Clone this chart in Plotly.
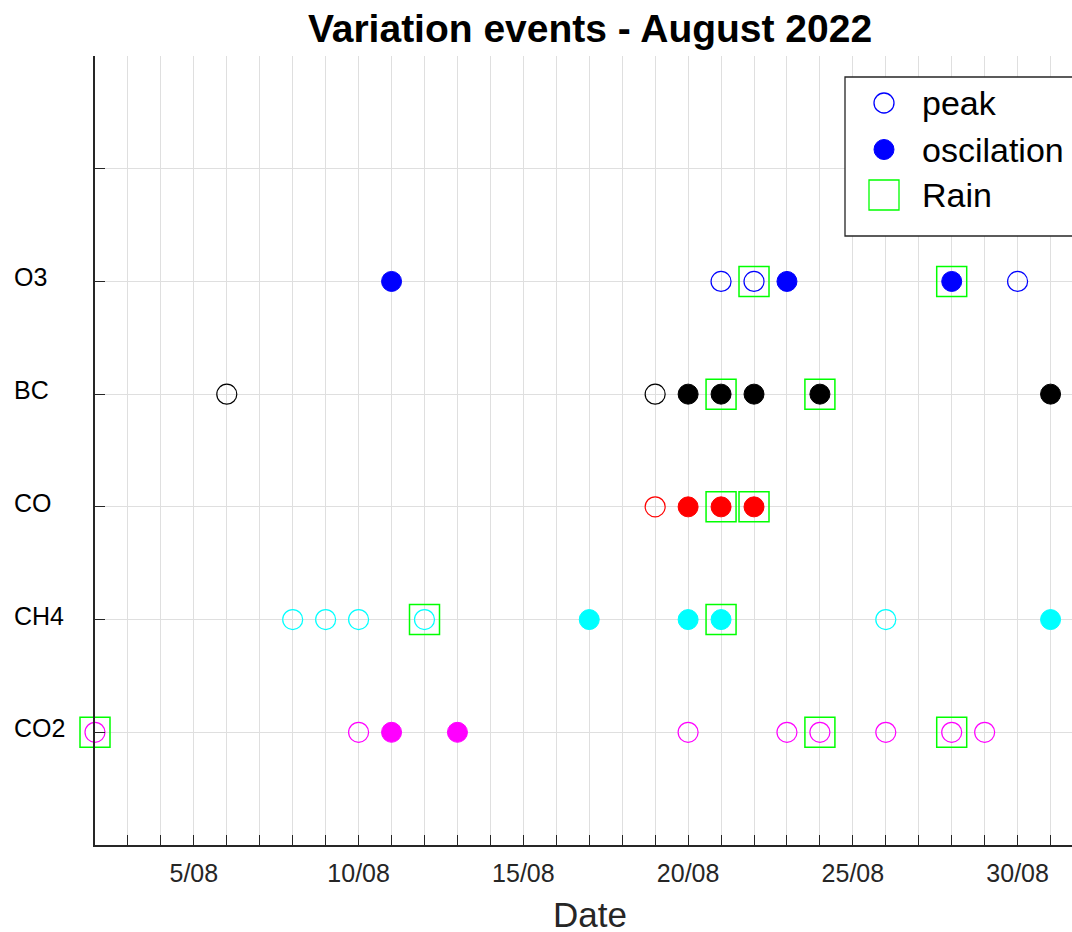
import plotly.graph_objects as go

# Event days (day of August 2022) per pollutant
o3_peak = [21, 22, 30]
o3_osc = [11, 23, 28]
o3_rain = [22, 28]

bc_peak = [6, 19]
bc_osc = [20, 21, 22, 24, 31]
bc_rain = [21, 24]

co_peak = [19]
co_osc = [20, 21, 22]
co_rain = [21, 22]

ch4_peak = [8, 9, 10, 12, 26]
ch4_osc = [17, 20, 21, 31]
ch4_rain = [12, 21]

co2_peak = [2, 10, 20, 23, 24, 26, 28, 29]
co2_osc = [11, 13]
co2_rain = [2, 24, 28]

species = ["CO2", "CH4", "CO", "BC", "O3"]
species_level = [1, 2, 3, 4, 5]
species_color = ["#ff00ff", "#00ffff", "#ff0000", "#000000", "#0000ff"]
peaks = [co2_peak, ch4_peak, co_peak, bc_peak, o3_peak]
oscillations = [co2_osc, ch4_osc, co_osc, bc_osc, o3_osc]
rains = [co2_rain, ch4_rain, co_rain, bc_rain, o3_rain]

tick_days = list(range(2, 32))
label_days = [5, 10, 15, 20, 25, 30]
legend_names = ["peak", "oscilation", "Rain"]

RAIN_COLOR = "#00ff00"
AXIS_COLOR = "#262626"
GRID_COLOR = "#dfdfdf"
FONT = "Liberation Sans, Arial, Helvetica, sans-serif"

W, H = 1072, 932
ML, MR, MT, MB = 95, 0, 56, 87
PW, PH = W - ML - MR, H - MT - MB


def day(d):
    return f"2022-08-{d:02d}"


fig = go.Figure()

for name, lvl, col, pk, osc in zip(species, species_level, species_color, peaks, oscillations):
    fig.add_trace(go.Scatter(
        x=[day(d) for d in pk], y=[lvl] * len(pk), mode="markers", name=f"{name} peak",
        marker=dict(symbol="circle-open", size=20, color=col, line=dict(width=1.2, color=col)),
        cliponaxis=False, showlegend=False, hoverinfo="x+name"))
    fig.add_trace(go.Scatter(
        x=[day(d) for d in osc], y=[lvl] * len(osc), mode="markers", name=f"{name} oscilation",
        marker=dict(symbol="circle", size=20, color=col, line=dict(width=1, color=col)),
        cliponaxis=False, showlegend=False, hoverinfo="x+name"))

rain_x, rain_y = [], []
for lvl, rn in zip(species_level, rains):
    rain_x += [day(d) for d in rn]
    rain_y += [lvl] * len(rn)
fig.add_trace(go.Scatter(
    x=rain_x, y=rain_y, mode="markers", name="Rain",
    marker=dict(symbol="square-open", size=30, color=RAIN_COLOR, line=dict(width=1.5, color=RAIN_COLOR)),
    cliponaxis=False, showlegend=False, hoverinfo="x+name"))

# Legend drawn in an inset subplot so the symbols keep their full size
LEG_L, LEG_T, LEG_B = 845, 77, 236
leg_w, leg_h = W - LEG_L, LEG_B - LEG_T
leg_rows = [26, 72.5, 118]
leg_sym_x = 39
leg_txt_x = 75
leg_symbols = ["circle-open", "circle", "square-open"]
leg_sizes = [20, 20, 30]
leg_colors = ["#0000ff", "#0000ff", RAIN_COLOR]
for sym, sz, col, yy, nm in zip(leg_symbols, leg_sizes, leg_colors, leg_rows, legend_names):
    fig.add_trace(go.Scatter(
        x=[leg_sym_x], y=[yy], xaxis="x2", yaxis="y2", mode="markers", name=nm,
        marker=dict(symbol=sym, size=sz, color=col, line=dict(width=1.3 if "open" in sym else 1, color=col)),
        showlegend=False, hoverinfo="skip", cliponaxis=False))

annotations = []
for nm, yy in zip(legend_names, leg_rows):
    annotations.append(dict(x=leg_txt_x, y=yy, xref="x2", yref="y2", text=nm, showarrow=False,
                            xanchor="left", yanchor="middle",
                            font=dict(family=FONT, size=34, color="#000000")))

# Pollutant names on the left, left-aligned
for name, lvl in zip(species, species_level):
    annotations.append(dict(x=(12 - ML) / PW, y=lvl, xref="paper", yref="y", text=name,
                            showarrow=False, xanchor="left", yanchor="middle", yshift=4,
                            font=dict(family=FONT, size=25, color="#000000")))

annotations.append(dict(x=(590 - ML) / PW, y=-69.5 / PH, xref="paper", yref="paper",
                        text="Date", showarrow=False, xanchor="center", yanchor="middle",
                        font=dict(family=FONT, size=35, color=AXIS_COLOR)))

x_end = 2 + PW / 32.95

fig.update_layout(
    width=W, height=H,
    margin=dict(l=ML, r=MR, t=MT, b=MB, autoexpand=False),
    paper_bgcolor="white", plot_bgcolor="white",
    showlegend=False,
    title=dict(text="<b>Variation events - August 2022</b>", x=590 / W, xref="container", xanchor="center",
               y=1 - 28 / H, yref="container", yanchor="middle",
               font=dict(family=FONT, size=39, color="#000000")),
    xaxis=dict(
        type="date",
        range=[day(2), f"2022-08-{int(x_end):02d} {int((x_end % 1) * 24):02d}:{int(((x_end * 24) % 1) * 60):02d}"],
        tickmode="array", tickvals=[day(d) for d in tick_days],
        ticktext=[f"{d}/08" if d in label_days else "" for d in tick_days],
        ticks="inside", ticklen=10, tickwidth=1.3, tickcolor=AXIS_COLOR,
        ticklabelstandoff=5,
        showgrid=True, gridcolor=GRID_COLOR, gridwidth=1,
        showline=True, linecolor=AXIS_COLOR, linewidth=1.5, mirror=False,
        zeroline=False,
        tickfont=dict(family=FONT, size=25, color=AXIS_COLOR),
    ),
    yaxis=dict(
        range=[0, 7], tickmode="array", tickvals=list(range(0, 8)), ticktext=[""] * 8,
        ticks="inside", ticklen=10, tickwidth=1.3, tickcolor=AXIS_COLOR,
        showgrid=True, gridcolor=GRID_COLOR, gridwidth=1,
        showline=True, linecolor=AXIS_COLOR, linewidth=1.5, mirror=False,
        zeroline=False,
    ),
    xaxis2=dict(domain=[(LEG_L - ML) / PW, 1], anchor="y2", range=[0, leg_w],
                showgrid=False, zeroline=False, showticklabels=False, showline=False, ticks="",
                fixedrange=True),
    yaxis2=dict(domain=[(H - MB - LEG_B) / PH, (H - MB - LEG_T) / PH], anchor="x2", range=[leg_h, 0],
                showgrid=False, zeroline=False, showticklabels=False, showline=False, ticks="",
                fixedrange=True),
    shapes=[dict(type="rect", xref="paper", yref="paper",
                 x0=(LEG_L - ML) / PW, x1=1.03,
                 y0=(H - MB - LEG_B) / PH, y1=(H - MB - LEG_T) / PH,
                 line=dict(color=AXIS_COLOR, width=1.3), fillcolor="rgba(0,0,0,0)", layer="above")],
    annotations=annotations,
)

fig.write_html("out.html")
